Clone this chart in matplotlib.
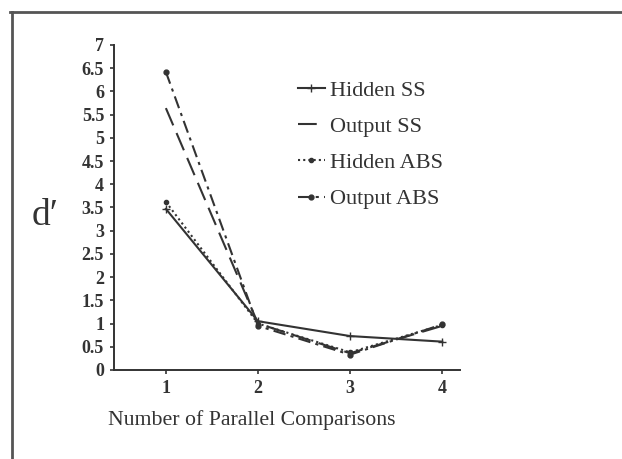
import matplotlib
matplotlib.use("Agg")
import matplotlib.pyplot as plt
from matplotlib.lines import Line2D

# Data
comparisons = [1, 2, 3, 4]
hidden_ss = [3.47, 1.05, 0.73, 0.61]
output_ss = [5.64, 1.00, 0.36, 0.95]
hidden_abs = [3.62, 1.00, 0.38, 0.97]
output_abs = [6.42, 0.95, 0.33, 0.98]
yticks = [0, 0.5, 1, 1.5, 2, 2.5, 3, 3.5, 4, 4.5, 5, 5.5, 6, 6.5, 7]

ink = "#333333"
plt.rcParams["font.family"] = ["Liberation Serif", "DejaVu Serif"]

fig = plt.figure(figsize=(6.22, 4.59), dpi=100)
ax = fig.add_axes([0.183, 0.194, 0.557, 0.708])

ax.plot(comparisons, hidden_ss, color=ink, lw=1.5, ls="-", marker="+", ms=6,
        label="Hidden SS")
ax.plot(comparisons, output_ss, color=ink, lw=1.5, ls=(0, (9, 4)),
        label="Output SS")
ax.plot(comparisons, hidden_abs, color=ink, lw=1.5, ls=(0, (1, 1.5)),
        marker="o", ms=3, label="Hidden ABS")
ax.plot(comparisons, output_abs, color=ink, lw=1.5, ls=(0, (6, 2.5, 1.5, 2.5)),
        marker="o", ms=3.5, label="Output ABS")

ax.set_xlim(0.435, 4.196)
ax.set_ylim(0, 7)
ax.set_xticks(comparisons)
ax.set_yticks(yticks)
ax.set_yticklabels([f"{v:g}" for v in yticks])
ax.tick_params(colors=ink, labelsize=13, length=3, width=1.2)
ax.tick_params(axis="y", pad=4)
ax.tick_params(axis="x", pad=4)
for lbl in ax.get_xticklabels() + ax.get_yticklabels():
    lbl.set_fontweight("bold")
for s in ["top", "right"]:
    ax.spines[s].set_visible(False)
for s in ["left", "bottom"]:
    ax.spines[s].set_color(ink)
    ax.spines[s].set_linewidth(1.4)

# x label sits left of the axes centre in the original
fig.text(0.405, 0.085, "Number of Parallel Comparisons", fontsize=15.7,
         color=ink, ha="center", va="center")
fig.text(0.072, 0.53, "d\u2032", fontsize=27, color=ink, ha="center", va="center")

leg = ax.legend(loc="upper left", bbox_to_anchor=(0.5, 0.925), frameon=False,
                fontsize=16, handlelength=1.2, handletextpad=0.25,
                labelspacing=0.7, labelcolor=ink, borderpad=0)

# scanned page frame: top and left rules
fig.add_artist(Line2D([0.016, 1.0], [0.974, 0.974], color="#555555", lw=2))
fig.add_artist(Line2D([0.019, 0.019], [0.0, 0.974], color="#555555", lw=2))

fig.savefig("out.png", dpi=100)
